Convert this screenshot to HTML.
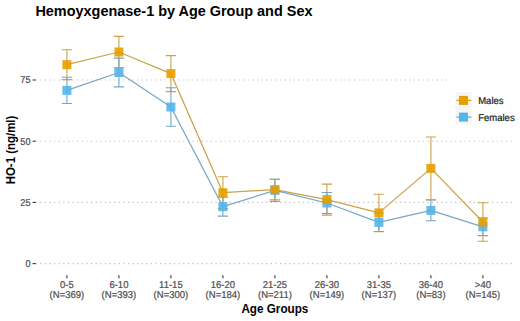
<!DOCTYPE html>
<html><head><meta charset="utf-8"><style>
html,body{margin:0;padding:0;background:#fff;}
body{width:520px;height:321px;overflow:hidden;}
svg{display:block;font-family:"Liberation Sans",sans-serif;}
</style></head><body>
<svg width="520" height="321" viewBox="0 0 520 321">
<rect x="0" y="0" width="520" height="321" fill="#fff"/>

<line x1="35.7" y1="263.6" x2="514.0" y2="263.6" stroke="#bababa" stroke-width="1.15" stroke-dasharray="1.15 3.46"/>
<line x1="35.7" y1="202.4" x2="514.0" y2="202.4" stroke="#bababa" stroke-width="1.15" stroke-dasharray="1.15 3.46"/>
<line x1="35.7" y1="141.2" x2="514.0" y2="141.2" stroke="#bababa" stroke-width="1.15" stroke-dasharray="1.15 3.46"/>
<line x1="35.7" y1="80.0" x2="514.0" y2="80.0" stroke="#bababa" stroke-width="1.15" stroke-dasharray="1.15 3.46"/>
<text transform="translate(30.60 266.90) scale(0.92 1)" font-size="10.0" fill="#4d4d4d" stroke="#4d4d4d" stroke-width="0.22" text-anchor="end" text-rendering="geometricPrecision" >0</text>
<line x1="32.6" y1="263.6" x2="35.7" y2="263.6" stroke="#333" stroke-width="1.1"/>
<text transform="translate(30.60 205.70) scale(0.92 1)" font-size="10.0" fill="#4d4d4d" stroke="#4d4d4d" stroke-width="0.22" text-anchor="end" text-rendering="geometricPrecision" >25</text>
<line x1="32.6" y1="202.4" x2="35.7" y2="202.4" stroke="#333" stroke-width="1.1"/>
<text transform="translate(30.60 144.50) scale(0.92 1)" font-size="10.0" fill="#4d4d4d" stroke="#4d4d4d" stroke-width="0.22" text-anchor="end" text-rendering="geometricPrecision" >50</text>
<line x1="32.6" y1="141.2" x2="35.7" y2="141.2" stroke="#333" stroke-width="1.1"/>
<text transform="translate(30.60 83.30) scale(0.92 1)" font-size="10.0" fill="#4d4d4d" stroke="#4d4d4d" stroke-width="0.22" text-anchor="end" text-rendering="geometricPrecision" >75</text>
<line x1="32.6" y1="80.0" x2="35.7" y2="80.0" stroke="#333" stroke-width="1.1"/>
<line x1="66.9" y1="275.2" x2="66.9" y2="278.2" stroke="#333" stroke-width="1.1"/>
<text transform="translate(66.90 288.10) scale(0.95 1)" font-size="10.0" fill="#4d4d4d" stroke="#4d4d4d" stroke-width="0.22" text-anchor="middle" text-rendering="geometricPrecision" >0-5</text>
<text transform="translate(66.90 297.90) scale(0.95 1)" font-size="10.0" fill="#4d4d4d" stroke="#4d4d4d" stroke-width="0.22" text-anchor="middle" text-rendering="geometricPrecision" >(N=369)</text>
<line x1="118.9" y1="275.2" x2="118.9" y2="278.2" stroke="#333" stroke-width="1.1"/>
<text transform="translate(118.90 288.10) scale(0.95 1)" font-size="10.0" fill="#4d4d4d" stroke="#4d4d4d" stroke-width="0.22" text-anchor="middle" text-rendering="geometricPrecision" >6-10</text>
<text transform="translate(118.90 297.90) scale(0.95 1)" font-size="10.0" fill="#4d4d4d" stroke="#4d4d4d" stroke-width="0.22" text-anchor="middle" text-rendering="geometricPrecision" >(N=393)</text>
<line x1="170.9" y1="275.2" x2="170.9" y2="278.2" stroke="#333" stroke-width="1.1"/>
<text transform="translate(170.90 288.10) scale(0.95 1)" font-size="10.0" fill="#4d4d4d" stroke="#4d4d4d" stroke-width="0.22" text-anchor="middle" text-rendering="geometricPrecision" >11-15</text>
<text transform="translate(170.90 297.90) scale(0.95 1)" font-size="10.0" fill="#4d4d4d" stroke="#4d4d4d" stroke-width="0.22" text-anchor="middle" text-rendering="geometricPrecision" >(N=300)</text>
<line x1="222.9" y1="275.2" x2="222.9" y2="278.2" stroke="#333" stroke-width="1.1"/>
<text transform="translate(222.90 288.10) scale(0.95 1)" font-size="10.0" fill="#4d4d4d" stroke="#4d4d4d" stroke-width="0.22" text-anchor="middle" text-rendering="geometricPrecision" >16-20</text>
<text transform="translate(222.90 297.90) scale(0.95 1)" font-size="10.0" fill="#4d4d4d" stroke="#4d4d4d" stroke-width="0.22" text-anchor="middle" text-rendering="geometricPrecision" >(N=184)</text>
<line x1="274.9" y1="275.2" x2="274.9" y2="278.2" stroke="#333" stroke-width="1.1"/>
<text transform="translate(274.90 288.10) scale(0.95 1)" font-size="10.0" fill="#4d4d4d" stroke="#4d4d4d" stroke-width="0.22" text-anchor="middle" text-rendering="geometricPrecision" >21-25</text>
<text transform="translate(274.90 297.90) scale(0.95 1)" font-size="10.0" fill="#4d4d4d" stroke="#4d4d4d" stroke-width="0.22" text-anchor="middle" text-rendering="geometricPrecision" >(N=211)</text>
<line x1="326.9" y1="275.2" x2="326.9" y2="278.2" stroke="#333" stroke-width="1.1"/>
<text transform="translate(326.90 288.10) scale(0.95 1)" font-size="10.0" fill="#4d4d4d" stroke="#4d4d4d" stroke-width="0.22" text-anchor="middle" text-rendering="geometricPrecision" >26-30</text>
<text transform="translate(326.90 297.90) scale(0.95 1)" font-size="10.0" fill="#4d4d4d" stroke="#4d4d4d" stroke-width="0.22" text-anchor="middle" text-rendering="geometricPrecision" >(N=149)</text>
<line x1="378.9" y1="275.2" x2="378.9" y2="278.2" stroke="#333" stroke-width="1.1"/>
<text transform="translate(378.90 288.10) scale(0.95 1)" font-size="10.0" fill="#4d4d4d" stroke="#4d4d4d" stroke-width="0.22" text-anchor="middle" text-rendering="geometricPrecision" >31-35</text>
<text transform="translate(378.90 297.90) scale(0.95 1)" font-size="10.0" fill="#4d4d4d" stroke="#4d4d4d" stroke-width="0.22" text-anchor="middle" text-rendering="geometricPrecision" >(N=137)</text>
<line x1="430.9" y1="275.2" x2="430.9" y2="278.2" stroke="#333" stroke-width="1.1"/>
<text transform="translate(430.90 288.10) scale(0.95 1)" font-size="10.0" fill="#4d4d4d" stroke="#4d4d4d" stroke-width="0.22" text-anchor="middle" text-rendering="geometricPrecision" >36-40</text>
<text transform="translate(430.90 297.90) scale(0.95 1)" font-size="10.0" fill="#4d4d4d" stroke="#4d4d4d" stroke-width="0.22" text-anchor="middle" text-rendering="geometricPrecision" >(N=83)</text>
<line x1="482.9" y1="275.2" x2="482.9" y2="278.2" stroke="#333" stroke-width="1.1"/>
<text transform="translate(482.90 288.10) scale(0.95 1)" font-size="10.0" fill="#4d4d4d" stroke="#4d4d4d" stroke-width="0.22" text-anchor="middle" text-rendering="geometricPrecision" >&gt;40</text>
<text transform="translate(482.90 297.90) scale(0.95 1)" font-size="10.0" fill="#4d4d4d" stroke="#4d4d4d" stroke-width="0.22" text-anchor="middle" text-rendering="geometricPrecision" >(N=145)</text>
<polyline points="66.9,64.7 118.9,52.0 170.9,73.6 222.9,192.7 274.9,189.6 326.9,199.6 378.9,212.9 430.9,168.4 482.9,222.0" fill="none" stroke="#CDA248" stroke-width="1.25" stroke-linejoin="round"/>
<polyline points="66.9,90.4 118.9,72.5 170.9,107.0 222.9,206.7 274.9,190.4 326.9,203.0 378.9,222.4 430.9,210.4 482.9,226.8" fill="none" stroke="#76A7C4" stroke-width="1.25" stroke-linejoin="round"/>
<path d="M61.7 49.8H72.1M66.9 49.8V79.6M61.7 79.6H72.1" fill="none" stroke="#CDA248" stroke-width="1.1"/>
<path d="M113.7 36.4H124.1M118.9 36.4V67.6M113.7 67.6H124.1" fill="none" stroke="#CDA248" stroke-width="1.1"/>
<path d="M165.7 55.6H176.1M170.9 55.6V91.6M165.7 91.6H176.1" fill="none" stroke="#CDA248" stroke-width="1.1"/>
<path d="M217.7 176.8H228.1M222.9 176.8V208.6M217.7 208.6H228.1" fill="none" stroke="#CDA248" stroke-width="1.1"/>
<path d="M269.7 179.3H280.1M274.9 179.3V199.9M269.7 199.9H280.1" fill="none" stroke="#CDA248" stroke-width="1.1"/>
<path d="M321.7 184.1H332.1M326.9 184.1V215.1M321.7 215.1H332.1" fill="none" stroke="#CDA248" stroke-width="1.1"/>
<path d="M373.7 194.2H384.1M378.9 194.2V231.6M373.7 231.6H384.1" fill="none" stroke="#CDA248" stroke-width="1.1"/>
<path d="M425.7 137.0H436.1M430.9 137.0V199.8M425.7 199.8H436.1" fill="none" stroke="#CDA248" stroke-width="1.1"/>
<path d="M477.7 202.8H488.1M482.9 202.8V241.2M477.7 241.2H488.1" fill="none" stroke="#CDA248" stroke-width="1.1"/>
<path d="M61.7 77.3H72.1M66.9 77.3V103.5M61.7 103.5H72.1" fill="none" stroke="#76A7C4" stroke-width="1.1"/>
<path d="M113.7 58.1H124.1M118.9 58.1V86.9M113.7 86.9H124.1" fill="none" stroke="#76A7C4" stroke-width="1.1"/>
<path d="M165.7 87.8H176.1M170.9 87.8V126.2M165.7 126.2H176.1" fill="none" stroke="#76A7C4" stroke-width="1.1"/>
<path d="M217.7 197.3H228.1M222.9 197.3V216.1M217.7 216.1H228.1" fill="none" stroke="#76A7C4" stroke-width="1.1"/>
<path d="M269.7 179.3H280.1M274.9 179.3V201.5M269.7 201.5H280.1" fill="none" stroke="#76A7C4" stroke-width="1.1"/>
<path d="M321.7 192.5H332.1M326.9 192.5V213.5M321.7 213.5H332.1" fill="none" stroke="#76A7C4" stroke-width="1.1"/>
<path d="M373.7 213.3H384.1M378.9 213.3V231.5M373.7 231.5H384.1" fill="none" stroke="#76A7C4" stroke-width="1.1"/>
<path d="M425.7 200.0H436.1M430.9 200.0V220.8M425.7 220.8H436.1" fill="none" stroke="#76A7C4" stroke-width="1.1"/>
<path d="M477.7 218.0H488.1M482.9 218.0V235.6M477.7 235.6H488.1" fill="none" stroke="#76A7C4" stroke-width="1.1"/>
<rect x="62.4" y="85.9" width="9" height="9" fill="#56B4E9" fill-opacity="0.9"/>
<rect x="114.4" y="68.0" width="9" height="9" fill="#56B4E9" fill-opacity="0.9"/>
<rect x="166.4" y="102.5" width="9" height="9" fill="#56B4E9" fill-opacity="0.9"/>
<rect x="218.4" y="202.2" width="9" height="9" fill="#56B4E9" fill-opacity="0.9"/>
<rect x="270.4" y="185.9" width="9" height="9" fill="#56B4E9" fill-opacity="0.9"/>
<rect x="322.4" y="198.5" width="9" height="9" fill="#56B4E9" fill-opacity="0.9"/>
<rect x="374.4" y="217.9" width="9" height="9" fill="#56B4E9" fill-opacity="0.9"/>
<rect x="426.4" y="205.9" width="9" height="9" fill="#56B4E9" fill-opacity="0.9"/>
<rect x="478.4" y="222.3" width="9" height="9" fill="#56B4E9" fill-opacity="0.9"/>
<rect x="62.4" y="60.2" width="9" height="9" fill="#E69F00" fill-opacity="0.9"/>
<rect x="114.4" y="47.5" width="9" height="9" fill="#E69F00" fill-opacity="0.9"/>
<rect x="166.4" y="69.1" width="9" height="9" fill="#E69F00" fill-opacity="0.9"/>
<rect x="218.4" y="188.2" width="9" height="9" fill="#E69F00" fill-opacity="0.9"/>
<rect x="270.4" y="185.1" width="9" height="9" fill="#E69F00" fill-opacity="0.9"/>
<rect x="322.4" y="195.1" width="9" height="9" fill="#E69F00" fill-opacity="0.9"/>
<rect x="374.4" y="208.4" width="9" height="9" fill="#E69F00" fill-opacity="0.9"/>
<rect x="426.4" y="163.9" width="9" height="9" fill="#E69F00" fill-opacity="0.9"/>
<rect x="478.4" y="217.5" width="9" height="9" fill="#E69F00" fill-opacity="0.9"/>
<rect x="448" y="74" width="72" height="58" fill="#fff"/>
<rect x="455.5" y="92" width="16" height="32.5" fill="#f5f5f1"/>
<line x1="456.4" y1="100.4" x2="471.4" y2="100.4" stroke="#E69F00" stroke-width="1.3"/>
<rect x="459.0" y="95.9" width="9" height="9" fill="#E69F00"/>
<text transform="translate(478.20 103.90) scale(0.95 1)" font-size="10.0" fill="#222" stroke="#222" stroke-width="0.22" text-anchor="start" text-rendering="geometricPrecision" >Males</text>
<line x1="456.4" y1="117.1" x2="471.4" y2="117.1" stroke="#56B4E9" stroke-width="1.3"/>
<rect x="459.0" y="112.6" width="9" height="9" fill="#56B4E9"/>
<text transform="translate(478.20 120.70) scale(0.95 1)" font-size="10.0" fill="#222" stroke="#222" stroke-width="0.22" text-anchor="start" text-rendering="geometricPrecision" >Females</text>
<text x="35.4" y="16" font-size="14.45" font-weight="bold" fill="#000">Hemoyxgenase-1 by Age Group and Sex</text>
<text transform="translate(274.85 312.5) scale(0.96 1)" font-size="12.2" font-weight="bold" fill="#000" text-anchor="middle">Age Groups</text>
<text transform="translate(14.9 150) rotate(-90) scale(0.955 1)" x="0" y="0" font-size="12" font-weight="bold" fill="#000" text-anchor="middle">HO-1 (ng/ml)</text>
</svg>
</body></html>
